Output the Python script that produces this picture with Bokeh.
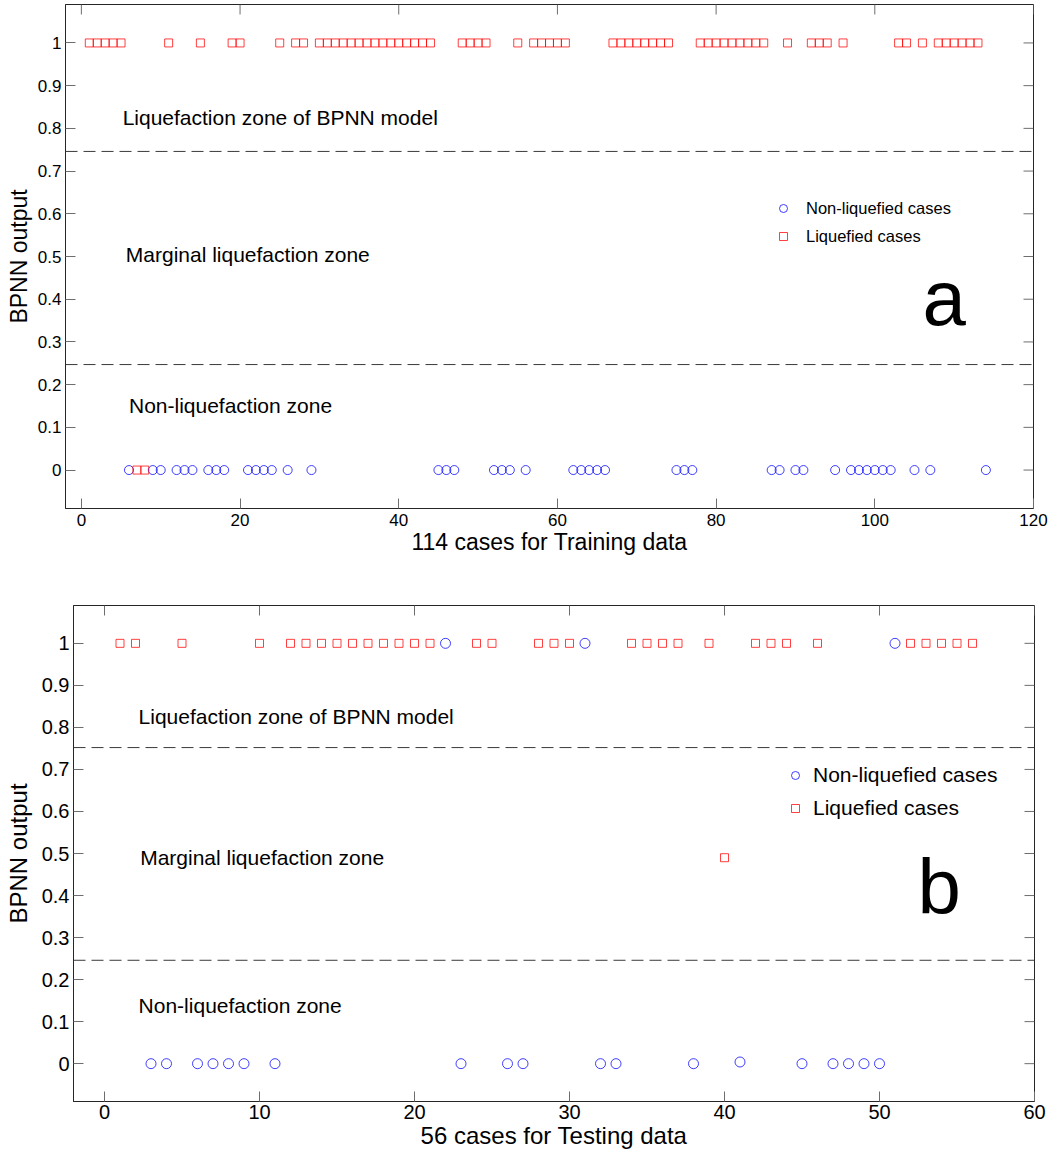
from bokeh.plotting import figure
from bokeh.models import (Range1d, FixedTicker, CustomJSTickFormatter, Span,
                          Label, Legend, LegendItem)
from bokeh.layouts import column
from bokeh.embed import file_html
from bokeh.resources import INLINE

# ---------------- data: (a) training ----------------
train_liq_cases = [1, 2, 3, 4, 5, 7, 8, 11, 15, 19, 20, 25, 27, 28,
                   30, 31, 32, 33, 34, 35, 36, 37, 38, 39, 40, 41, 42, 43, 44,
                   48, 49, 50, 51, 55, 57, 58, 59, 60, 61,
                   67, 68, 69, 70, 71, 72, 73, 74,
                   78, 79, 80, 81, 82, 83, 84, 85, 86, 89, 92, 93, 94, 96,
                   103, 104, 106, 108, 109, 110, 111, 112, 113]
train_liq_output = [1, 1, 1, 1, 1, 0, 0, 1, 1, 1, 1, 1, 1, 1,
                    1, 1, 1, 1, 1, 1, 1, 1, 1, 1, 1, 1, 1, 1, 1,
                    1, 1, 1, 1, 1, 1, 1, 1, 1, 1,
                    1, 1, 1, 1, 1, 1, 1, 1,
                    1, 1, 1, 1, 1, 1, 1, 1, 1, 1, 1, 1, 1, 1,
                    1, 1, 1, 1, 1, 1, 1, 1, 1]
train_non_cases = [6, 9, 10, 12, 13, 14, 16, 17, 18, 21, 22, 23, 24, 26, 29,
                   45, 46, 47, 52, 53, 54, 56, 62, 63, 64, 65, 66, 75, 76, 77,
                   87, 88, 90, 91, 95, 97, 98, 99, 100, 101, 102, 105, 107, 114]
train_non_output = [0, 0, 0, 0, 0, 0, 0, 0, 0, 0, 0, 0, 0, 0, 0,
                    0, 0, 0, 0, 0, 0, 0, 0, 0, 0, 0, 0, 0, 0, 0,
                    0, 0, 0, 0, 0, 0, 0, 0, 0, 0, 0, 0, 0, 0]

# ---------------- data: (b) testing ----------------
test_liq_cases = [1, 2, 5, 10, 12, 13, 14, 15, 16, 17, 18, 19, 20, 21, 24, 25,
                  28, 29, 30, 34, 35, 36, 37, 39, 40, 42, 43, 44, 46, 52, 53, 54, 55, 56]
test_liq_output = [1, 1, 1, 1, 1, 1, 1, 1, 1, 1, 1, 1, 1, 1, 1, 1,
                   1, 1, 1, 1, 1, 1, 1, 1, 0.49, 1, 1, 1, 1, 1, 1, 1, 1, 1]
test_non_cases = [3, 4, 6, 7, 8, 9, 11, 22, 23, 26, 27, 31, 32, 33, 38, 41,
                  45, 47, 48, 49, 50, 51]
test_non_output = [0, 0, 0, 0, 0, 0, 0, 1, 0, 0, 0, 1, 0, 0, 0, 0.004,
                   0, 0, 0, 0, 0, 1]

# thresholds and ticks
train_thresholds = [0.746, 0.247]
test_thresholds = [0.752, 0.246]
y_ticks = [0, 0.1, 0.2, 0.3, 0.4, 0.5, 0.6, 0.7, 0.8, 0.9, 1.0]
train_x_ticks = [0, 20, 40, 60, 80, 100, 120]
test_x_ticks = [0, 10, 20, 30, 40, 50, 60]

FONT = "Liberation Sans"
AX = "#262626"
TICK = "#6e6e6e"
Y0, Y1 = -0.09, 1.09
FIG_W, FIG_H = 1051, 580
TICK_LEN = 10


def style_axis(ax, ticks, font_size):
    ax.ticker = FixedTicker(ticks=ticks)
    ax.major_tick_in = TICK_LEN
    ax.major_tick_out = 0
    ax.minor_tick_line_color = None
    ax.major_tick_line_color = TICK
    ax.axis_line_color = AX
    ax.major_label_text_font = FONT
    ax.major_label_text_color = "#000000"
    ax.major_label_text_font_size = font_size


def make_panel(cases_non, out_non, cases_liq, out_liq, xmax, xticks, thresholds,
               borders, tick_fs, xlabel, ylabel_fs, xlabel_fs, ylab_standoff,
               xtick_standoff, marker_sizes, zone_pos, zone_fs, letter, letter_pos,
               legend_loc, legend_fs, legend_glyph, legend_standoff, legend_spacing):
    left, right, top, bottom = borders
    X0 = -2
    p = figure(width=FIG_W, height=FIG_H, x_range=Range1d(X0, xmax), y_range=Range1d(Y0, Y1),
               output_backend="svg", toolbar_location=None,
               min_border_left=left, min_border_right=right,
               min_border_top=top, min_border_bottom=bottom)
    try:
        p.frame_align = False
    except Exception:
        pass
    p.xgrid.visible = False
    p.ygrid.visible = False
    p.outline_line_color = AX
    p.background_fill_color = "white"
    p.border_fill_color = "white"

    style_axis(p.xaxis[0], xticks, tick_fs)
    style_axis(p.yaxis[0], y_ticks, tick_fs)
    p.yaxis[0].formatter = CustomJSTickFormatter(code="return Number(tick.toFixed(2)).toString();")
    p.xaxis[0].major_label_standoff = xtick_standoff
    p.yaxis[0].major_label_standoff = 4
    p.xaxis.axis_label = xlabel
    p.yaxis.axis_label = "BPNN output"
    p.xaxis.axis_label_text_font = FONT
    p.yaxis.axis_label_text_font = FONT
    p.xaxis.axis_label_text_font_style = "normal"
    p.yaxis.axis_label_text_font_style = "normal"
    p.xaxis.axis_label_text_font_size = xlabel_fs
    p.yaxis.axis_label_text_font_size = ylabel_fs
    p.xaxis.axis_label_text_color = "#000000"
    p.yaxis.axis_label_text_color = "#000000"
    p.xaxis.axis_label_standoff = 0
    p.yaxis.axis_label_standoff = ylab_standoff

    # mirrored inward ticks on the top and right frame edges (box on)
    frame_w = FIG_W - left - right
    frame_h = FIG_H - top - bottom
    dy = TICK_LEN * (Y1 - Y0) / frame_h
    dx = TICK_LEN * (xmax - X0) / frame_w
    p.segment(x0=xticks, y0=[Y1] * len(xticks), x1=xticks, y1=[Y1 - dy] * len(xticks),
              line_color=TICK, line_width=1)
    p.segment(x0=[xmax] * len(y_ticks), y0=y_ticks, x1=[xmax - dx] * len(y_ticks), y1=y_ticks,
              line_color=TICK, line_width=1)

    for t in thresholds:
        p.add_layout(Span(location=t, dimension="width", line_color="#3a3a3a",
                          line_width=1, line_dash="12 6"))

    r_non = p.scatter(cases_non, out_non, marker="circle", size=marker_sizes[0],
                      fill_color=None, line_color="#0000ff", line_width=1, line_alpha=0.75)
    r_liq = p.scatter(cases_liq, out_liq, marker="square", size=marker_sizes[1],
                      fill_color=None, line_color="#ff0000", line_width=1, line_alpha=0.75)

    texts = ["Liquefaction zone of BPNN model", "Marginal liquefaction zone", "Non-liquefaction zone"]
    for txt, (tx, ty) in zip(texts, zone_pos):
        p.add_layout(Label(x=tx, y=ty, text=txt, text_font=FONT, text_font_size=zone_fs,
                           text_baseline="middle", text_align="left", text_color="#000000"))
    p.add_layout(Label(x=letter_pos[0], y=letter_pos[1], text=letter, text_font=FONT,
                       text_font_size="78px", text_baseline="alphabetic", text_align="left",
                       text_color="#000000"))

    legend = Legend(items=[LegendItem(label="Non-liquefied cases", renderers=[r_non]),
                           LegendItem(label="Liquefied cases", renderers=[r_liq])],
                    location=legend_loc, border_line_color=None, background_fill_alpha=0,
                    padding=0, margin=0, spacing=legend_spacing,
                    glyph_width=20, glyph_height=legend_glyph, label_height=legend_glyph,
                    label_standoff=legend_standoff, label_text_font=FONT,
                    label_text_font_size=legend_fs, label_text_color="#000000")
    p.add_layout(legend)
    return p


p1 = make_panel(train_non_cases, train_non_output, train_liq_cases, train_liq_output,
                120, train_x_ticks, train_thresholds,
                borders=(65, 18, 4, 72), tick_fs="17px",
                xlabel="114 cases for Training data", ylabel_fs="23px", xlabel_fs="23px",
                ylab_standoff=3, xtick_standoff=5, marker_sizes=(9, 8),
                zone_pos=[(5.2, 0.826), (5.6, 0.505), (6.0, 0.151)], zone_fs="21px",
                letter="a", letter_pos=(106.0, 0.404),
                legend_loc=(708, 262), legend_fs="16.5px", legend_glyph=20,
                legend_standoff=13, legend_spacing=8)

p2 = make_panel(test_non_cases, test_non_output, test_liq_cases, test_liq_output,
                60, test_x_ticks, test_thresholds,
                borders=(73, 17, 25, 59), tick_fs="20px",
                xlabel="56 cases for Testing data", ylabel_fs="24px", xlabel_fs="24px",
                ylab_standoff=7, xtick_standoff=3, marker_sizes=(10, 8),
                zone_pos=[(2.2, 0.827), (2.3, 0.491), (2.2, 0.139)], zone_fs="21px",
                letter="b", letter_pos=(52.45, 0.42),
                legend_loc=(712, 281), legend_fs="21px", legend_glyph=24,
                legend_standoff=8, legend_spacing=9)

layout = column(p1, p2, spacing=0)
open("out.html", "w").write(file_html(layout, INLINE))
